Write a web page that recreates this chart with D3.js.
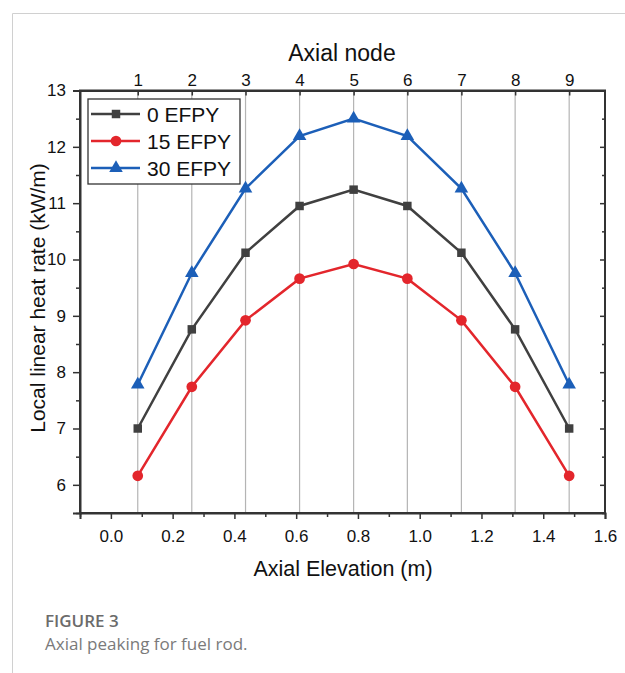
<!DOCTYPE html>
<html>
<head>
<meta charset="utf-8">
<script src="https://cdn.jsdelivr.net/npm/d3@7"></script>
<style>
  html, body { margin: 0; padding: 0; background: #fff; }
</style>
</head>
<body>
<svg id="chart" width="625" height="673"></svg>
<script>
// Axial elevation of each node centre (m)
const elevation = [0.087, 0.262, 0.436, 0.611, 0.786, 0.960, 1.135, 1.309, 1.484];
const nodes = [1, 2, 3, 4, 5, 6, 7, 8, 9];
// Local linear heat rate (kW/m)
const efpy0  = [7.00, 8.76, 10.12, 10.95, 11.24, 10.95, 10.12, 8.76, 7.00];
const efpy15 = [6.16, 7.74, 8.92, 9.66, 9.92, 9.66, 8.92, 7.74, 6.16];
const efpy30 = [7.78, 9.76, 11.26, 12.19, 12.50, 12.19, 11.26, 9.76, 7.78];
const seriesNames = ["0 EFPY", "15 EFPY", "30 EFPY"];
const xTicks = [0.0, 0.2, 0.4, 0.6, 0.8, 1.0, 1.2, 1.4, 1.6];
const yTicks = [6, 7, 8, 9, 10, 11, 12, 13];

const FONT = "'Liberation Sans', Arial, sans-serif";
const CAPTION_FONT = "'Open Sans', 'Noto Sans', sans-serif";

const series = [
  { name: seriesNames[0], values: efpy0,  color: "#404040", symbol: d3.symbolSquare,   size: 72 },
  { name: seriesNames[1], values: efpy15, color: "#e3262c", symbol: d3.symbolCircle,   size: 90 },
  { name: seriesNames[2], values: efpy30, color: "#1c5fb8", symbol: d3.symbolTriangle, size: 80 }
];

const svg = d3.select("#chart");

// card outline
svg.append("path")
  .attr("d", "M12.5,673 V13.5 H625")
  .attr("fill", "none").attr("stroke", "#d0d0d0").attr("stroke-width", 1);

const L = 80, R = 605, T = 90.5, B = 513;
const x = d3.scaleLinear().domain([-0.1, 1.6]).range([L, R]);
const y = d3.scaleLinear().domain([5.5, 13]).range([B, T]);

// vertical grid lines at node centres
svg.append("g").selectAll("line").data(elevation).join("line")
  .attr("x1", d => x(d)).attr("x2", d => x(d))
  .attr("y1", T).attr("y2", B)
  .attr("stroke", "#b4b4b4").attr("stroke-width", 1.2);

// bottom axis
svg.append("g").attr("transform", `translate(0,${B})`)
  .call(d3.axisBottom(x).tickValues(xTicks).tickFormat(d3.format(".1f")).tickSize(6).tickPadding(11));
svg.append("g").attr("transform", `translate(0,${B})`)
  .call(d3.axisBottom(x).tickValues(d3.range(-0.1, 1.6, 0.2)).tickFormat("").tickSize(4))
  .select(".domain").remove();

// left axis
svg.append("g").attr("transform", `translate(${L},0)`)
  .call(d3.axisLeft(y).tickValues(yTicks).tickSize(7).tickPadding(7));
svg.append("g").attr("transform", `translate(${L},0)`)
  .call(d3.axisLeft(y).tickValues(d3.range(5.5, 13, 1)).tickFormat("").tickSize(4))
  .select(".domain").remove();

// right axis, inward ticks, no labels
svg.append("g").attr("transform", `translate(${R},0)`)
  .call(d3.axisLeft(y).tickValues(yTicks).tickFormat("").tickSize(5))
  .select(".domain").remove();
svg.append("g").attr("transform", `translate(${R},0)`)
  .call(d3.axisLeft(y).tickValues(d3.range(5.5, 13, 1)).tickFormat("").tickSize(3))
  .select(".domain").remove();

// top axis: node numbers, short inward ticks
svg.append("g").attr("transform", `translate(0,${T})`)
  .call(d3.axisTop(x).tickValues(elevation).tickFormat((d, i) => nodes[i]).tickSize(0).tickPadding(5));
svg.append("g").attr("transform", `translate(0,${T})`)
  .call(d3.axisBottom(x).tickValues(elevation).tickFormat("").tickSize(5))
  .select(".domain").remove();

// frame
svg.append("rect").attr("x", L).attr("y", T).attr("width", R - L).attr("height", B - T)
  .attr("fill", "none").attr("stroke", "#333").attr("stroke-width", 2);

svg.selectAll(".tick text")
  .style("font-family", FONT).style("font-size", "17px").attr("fill", "#111");
svg.selectAll(".tick line").attr("stroke", "#333").attr("stroke-width", 1.5);
svg.selectAll(".domain").attr("stroke", "#333").attr("stroke-width", 2);

// series lines and markers
const line = d3.line().x((d, i) => x(elevation[i])).y(d => y(d));
series.forEach(s => {
  svg.append("path").datum(s.values)
    .attr("d", line).attr("fill", "none")
    .attr("stroke", s.color).attr("stroke-width", 2.5);
  svg.append("g").selectAll("path").data(s.values).join("path")
    .attr("transform", (d, i) => `translate(${x(elevation[i])},${y(d)})`)
    .attr("d", d3.symbol().type(s.symbol).size(s.size))
    .attr("fill", s.color);
});

// legend
const lg = svg.append("g");
lg.append("rect").attr("x", 88).attr("y", 99).attr("width", 152).attr("height", 85)
  .attr("fill", "#fff").attr("stroke", "#333").attr("stroke-width", 1.3);
series.forEach((s, i) => {
  const ly = 114 + i * 27;
  lg.append("line").attr("x1", 91).attr("x2", 140).attr("y1", ly).attr("y2", ly)
    .attr("stroke", s.color).attr("stroke-width", 2.5);
  lg.append("path").attr("transform", `translate(116,${ly})`)
    .attr("d", d3.symbol().type(s.symbol).size(s.size)).attr("fill", s.color);
  lg.append("text").attr("x", 147).attr("y", ly + 7.5)
    .style("font-family", FONT).style("font-size", "21px")
    .attr("fill", "#111").text(s.name);
});

// axis titles
svg.append("text").attr("x", 343).attr("y", 576).attr("text-anchor", "middle")
  .style("font-family", FONT).style("font-size", "21.5px")
  .attr("fill", "#111").text("Axial Elevation (m)");
svg.append("text").attr("x", 342).attr("y", 61).attr("text-anchor", "middle")
  .style("font-family", FONT).style("font-size", "23px")
  .attr("fill", "#111").text("Axial node");
svg.append("text").attr("transform", `translate(45,298) rotate(-90)`)
  .attr("text-anchor", "middle")
  .style("font-family", FONT).style("font-size", "21px").attr("fill", "#111")
  .text("Local linear heat rate (kW/m)");

// caption
svg.append("text").attr("x", 45).attr("y", 627)
  .style("font-family", CAPTION_FONT).style("font-size", "17px")
  .attr("font-weight", 600).attr("fill", "#6b6b6b").text("FIGURE 3");
svg.append("text").attr("x", 45).attr("y", 650)
  .style("font-family", CAPTION_FONT).style("font-size", "17px")
  .attr("fill", "#7a7a7a").text("Axial peaking for fuel rod.");
</script>
</body>
</html>
